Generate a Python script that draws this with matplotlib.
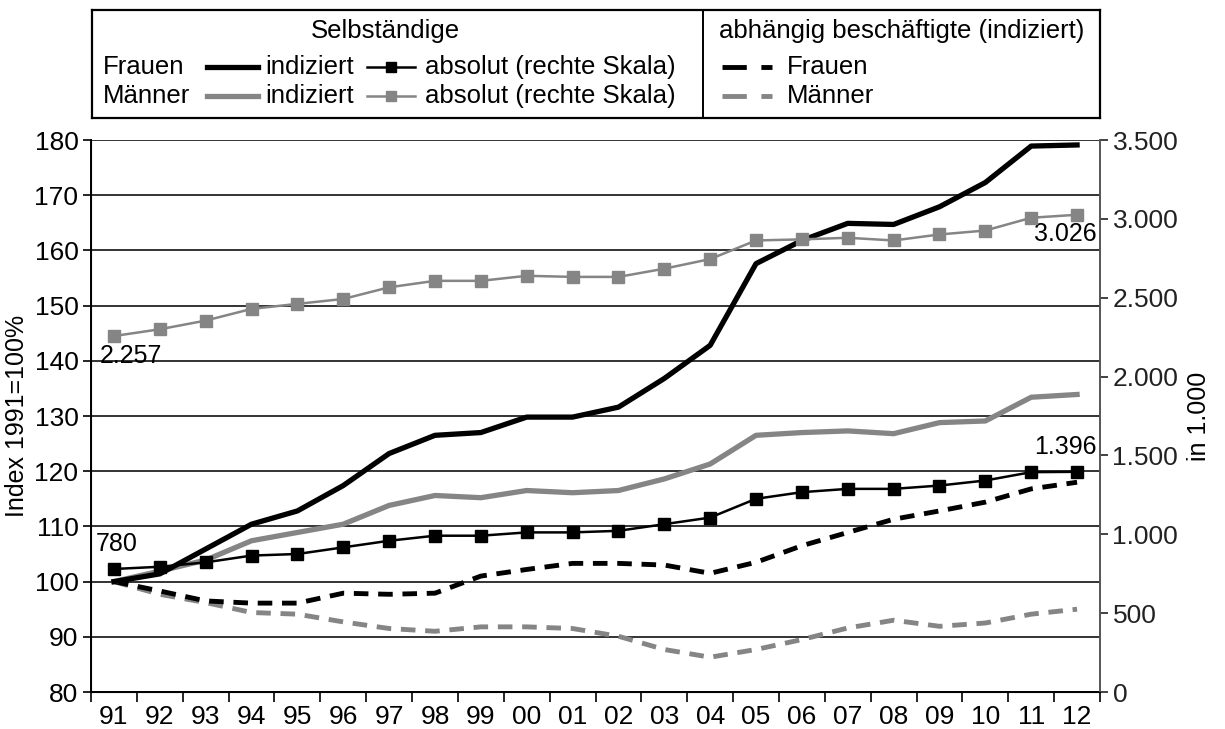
import numpy as np
import matplotlib
matplotlib.use("Agg")
import matplotlib.pyplot as plt
from matplotlib.ticker import FuncFormatter, MultipleLocator

plt.rcParams['font.family'] = ['Liberation Sans', 'DejaVu Sans']

jahre = ['91', '92', '93', '94', '95', '96', '97', '98', '99', '00', '01',
         '02', '03', '04', '05', '06', '07', '08', '09', '10', '11', '12']

# Selbständige, indiziert (1991=100)
frauen_ind = [100, 101.4, 105.9, 110.4, 112.8, 117.4, 123.2, 126.5, 127.0, 129.8, 129.8,
              131.6, 136.8, 142.8, 157.6, 161.8, 164.9, 164.7, 167.9, 172.3, 178.9, 179.1]
maenner_ind = [100, 101.9, 103.9, 107.4, 108.9, 110.4, 113.8, 115.6, 115.2, 116.5, 116.1,
               116.5, 118.6, 121.3, 126.5, 127.0, 127.3, 126.8, 128.8, 129.1, 133.4, 133.9]

# Selbständige, absolut in 1.000 (rechte Skala)
frauen_abs = [780, 794, 822, 865, 875, 917, 959, 991, 991, 1012, 1012,
              1022, 1064, 1106, 1225, 1267, 1288, 1288, 1309, 1341, 1394, 1396]
maenner_abs = [2257, 2300, 2355, 2429, 2461, 2492, 2566, 2607, 2607, 2639, 2632,
               2632, 2684, 2745, 2863, 2870, 2880, 2863, 2901, 2926, 3007, 3026]

# abhängig Beschäftigte, indiziert
frauen_abh = [100, 98.3, 96.5, 96.1, 96.1, 97.9, 97.7, 97.9, 101.0, 102.2, 103.3,
              103.3, 103.0, 101.5, 103.5, 106.5, 108.9, 111.3, 112.8, 114.4, 116.8, 118.0]
maenner_abh = [100, 97.7, 96.2, 94.4, 94.1, 92.7, 91.5, 91.0, 91.8, 91.8, 91.5,
               90.1, 87.7, 86.3, 87.7, 89.5, 91.6, 93.0, 91.9, 92.5, 94.1, 95.0]

SCHWARZ = '#000000'
GRAU = '#858585'

fig = plt.figure(figsize=(12.25, 7.29), dpi=100)
ax = fig.add_axes([91 / 1225, 1 - 692 / 729, (1100 - 91) / 1225, (692 - 140) / 729])
ax2 = ax.twinx()

x = np.arange(len(jahre))
dash = (0, (3, 2))

ax.plot(x, maenner_abh, color=GRAU, lw=3.5, linestyle=dash, zorder=3)
ax.plot(x, frauen_abh, color=SCHWARZ, lw=3.5, linestyle=dash, zorder=3)
ax.plot(x, maenner_ind, color=GRAU, lw=3.8, zorder=4)
ax.plot(x, frauen_ind, color=SCHWARZ, lw=3.8, zorder=5)

ax2.plot(x, maenner_abs, color=GRAU, lw=1.8, marker='s', ms=8, zorder=5)
ax2.plot(x, frauen_abs, color=SCHWARZ, lw=1.8, marker='s', ms=8, zorder=5)

def de(v):
    return '{:,.0f}'.format(v).replace(',', '.')

fl = 18
ax2.annotate(de(frauen_abs[0]), (x[0], frauen_abs[0]), xytext=(-13, 9),
             textcoords='offset points', fontsize=fl, ha='left', va='bottom')
ax2.annotate(de(maenner_abs[0]), (x[0], maenner_abs[0]), xytext=(-10, -6),
             textcoords='offset points', fontsize=fl, ha='left', va='top')
ax2.annotate(de(maenner_abs[-1]), (x[-1], maenner_abs[-1]), xytext=(14, -5),
             textcoords='offset points', fontsize=fl, ha='right', va='top')
ax2.annotate(de(frauen_abs[-1]), (x[-1], frauen_abs[-1]), xytext=(14, 9),
             textcoords='offset points', fontsize=fl, ha='right', va='bottom')

ax.set_xlim(-0.5, len(jahre) - 0.5)
ax.set_ylim(80, 180)
ax2.set_ylim(0, 3500)
ax.yaxis.set_major_locator(MultipleLocator(10))
ax2.yaxis.set_major_locator(MultipleLocator(500))
ax2.yaxis.set_major_formatter(FuncFormatter(lambda v, p: de(v)))

ft = 19
ax.set_xticks(x)
ax.set_xticklabels(jahre)
ax.set_xticks(np.arange(len(jahre) + 1) - 0.5, minor=True)
ax.tick_params(axis='x', which='major', length=0, pad=9, labelsize=ft)
ax.tick_params(axis='x', which='minor', length=7, width=1.2, direction='out')
ax.tick_params(axis='y', length=6, width=1.2, labelsize=ft, pad=3)
ax2.tick_params(axis='y', length=6, width=1.2, labelsize=ft, pad=3, colors='#222222')

ax.grid(axis='y', color='#333333', lw=1.4)
ax.set_axisbelow(True)
ax.spines['top'].set_visible(False)
ax2.spines['top'].set_visible(False)
ax.spines['left'].set_linewidth(1.4)
ax.spines['bottom'].set_linewidth(1.4)
ax2.spines['right'].set_linewidth(1.4)
ax2.spines['right'].set_color('#555555')
ax.spines['right'].set_visible(False)

ax.set_ylabel('Index 1991=100%', fontsize=18, labelpad=4)
ax2.set_ylabel('in 1.000', fontsize=18, labelpad=6)

# Legendenkasten oben
lax = fig.add_axes([92 / 1225, 1 - 118 / 729, (1100 - 92) / 1225, 108 / 729])
lax.set_xlim(92, 1100)
lax.set_ylim(118, 10)
lax.set_xticks([])
lax.set_yticks([])
for s in lax.spines.values():
    s.set_linewidth(1.6)
lax.axvline(703, color='black', lw=1.4)

fs = 18.5
lax.text(385, 31, 'Selbständige', fontsize=fs, ha='center', va='center')
lax.text(902, 31, 'abhängig beschäftigte (indiziert)', fontsize=fs, ha='center', va='center')

zeilen = [(67, 'Frauen', SCHWARZ), (96, 'Männer', GRAU)]
for y, name, col in zeilen:
    lax.text(103, y, name, fontsize=fs, ha='left', va='center')
    lax.plot([207, 258], [y, y], color=col, lw=3.8)
    lax.text(265, y, 'indiziert', fontsize=fs, ha='left', va='center')
    lax.plot([367, 415], [y, y], color=col, lw=1.8)
    lax.plot([391], [y], color=col, marker='s', ms=7)
    lax.text(425, y, 'absolut (rechte Skala)', fontsize=fs, ha='left', va='center')
    lax.plot([722, 772], [y, y], color=col, lw=3.5, linestyle=(0, (5, 3)))
    lax.text(787, y, name, fontsize=fs, ha='left', va='center')

fig.savefig('out.png', dpi=100)
